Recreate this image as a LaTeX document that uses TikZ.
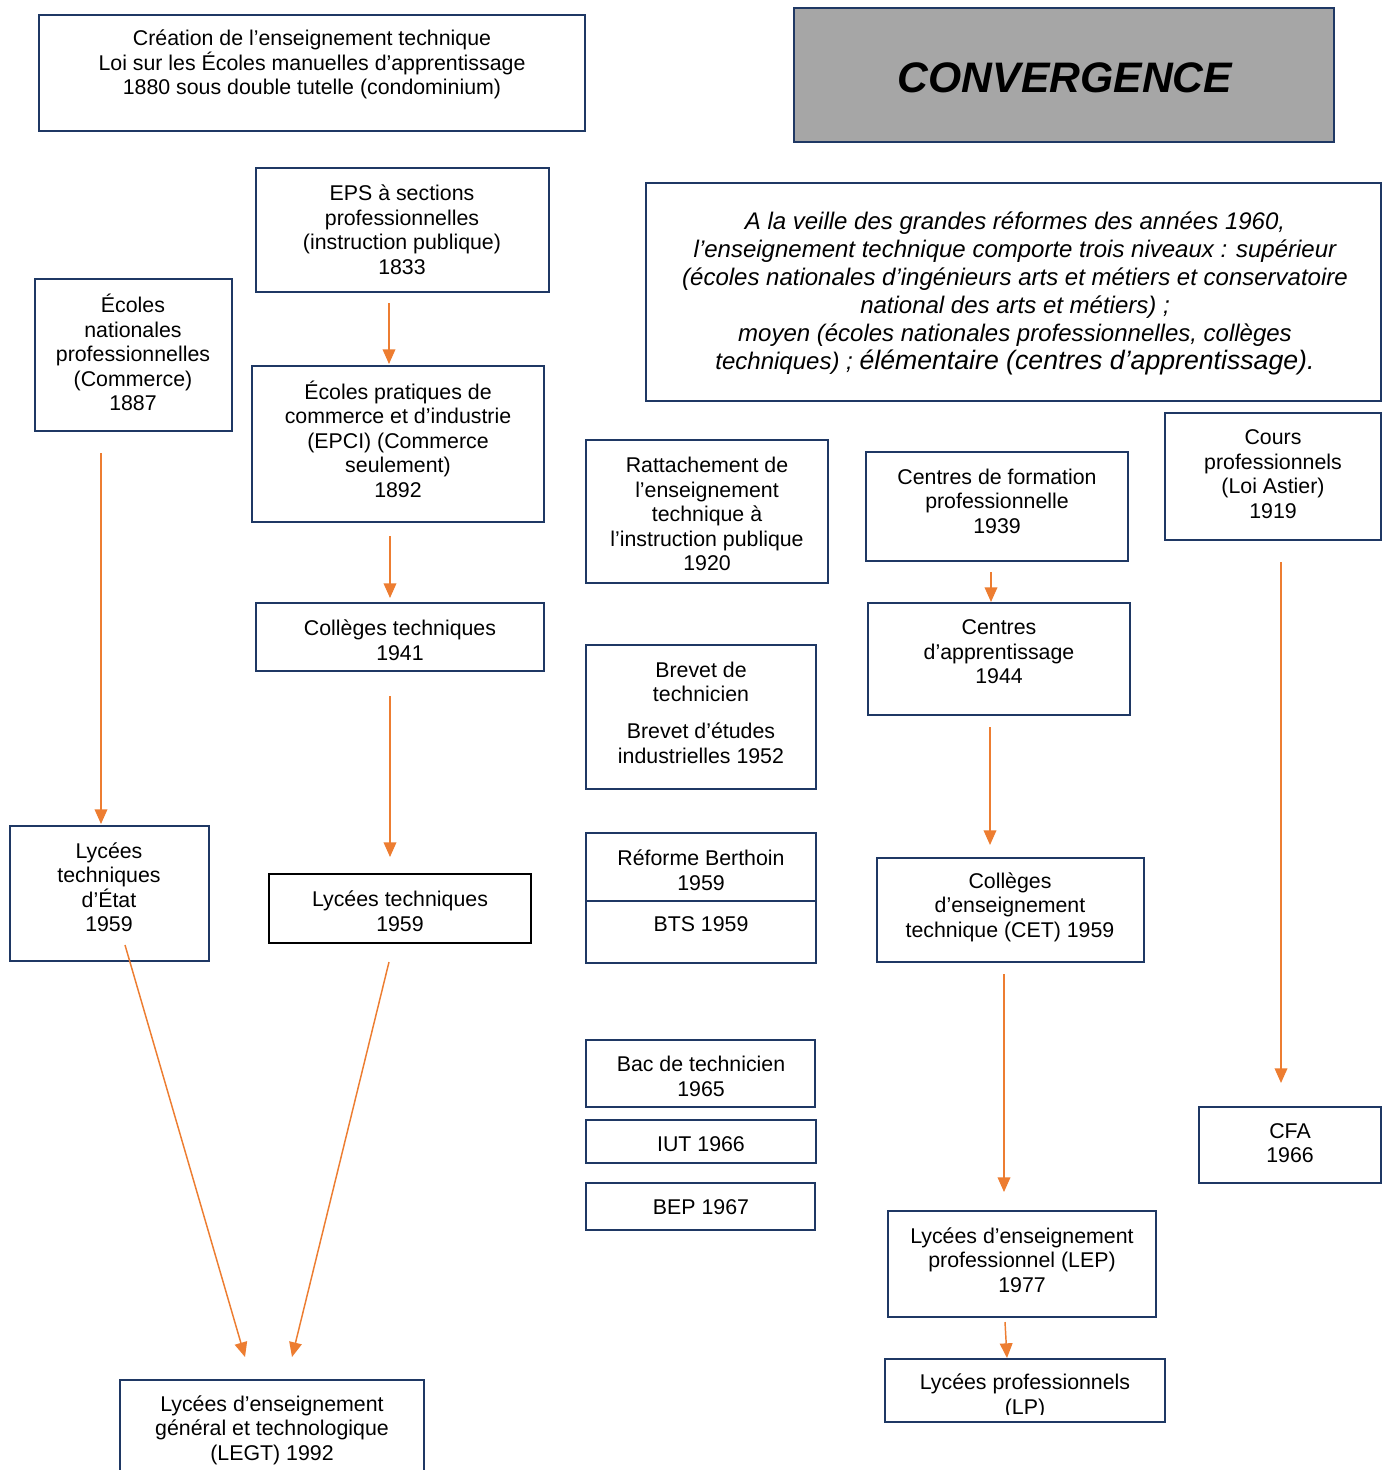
\documentclass[tikz,border=0pt]{standalone}
\usepackage{fontspec}
\setmainfont{Liberation Sans}
\usetikzlibrary{arrows.meta}
\definecolor{navy}{RGB}{31,56,100}
\definecolor{arrorange}{RGB}{237,125,49}
\definecolor{titlegray}{RGB}{166,166,166}
\newcommand\mybox[6]{%
  \node[box,#6,minimum width={(#4-#2)*0.75pt},minimum height={(#5-#3)*0.75pt}] (#1) at ({(#2+#4)/2},{(#3+#5)/2}) {};}
\begin{document}
\begin{tikzpicture}[x=0.75pt,y=-0.75pt,
  box/.style={draw=navy,line width=1.5pt,fill=white,inner sep=0pt,outer sep=0pt},
  txt/.style={align=center,inner sep=0pt,yshift=-1.2pt,font=\fontsize{16}{18.4}\selectfont},
  arr/.style={draw=arrorange,line width=1.1pt,-{Triangle[length=11pt,width=9.5pt]}}]
\useasboundingbox (0,0) rectangle (1390,1470);
\clip (0,0) rectangle (1390,1470);
\fill[white] (0,0) rectangle (1390,1470);

% boxes
\mybox{crea}{39}{15}{585}{131}{}
\mybox{eps}{256}{168}{549}{292}{}
\mybox{ecn}{35}{279}{232}{431}{}
\mybox{epci}{252}{366}{544}{522}{}
\mybox{coll}{256}{603}{544}{671}{}
\mybox{lte}{10}{826}{209}{961}{}
\mybox{lyt}{269}{874}{531}{943}{draw=black,line width=1.9pt}
\mybox{legt}{120}{1380}{424}{1500}{}
\mybox{conv}{794}{8}{1334}{142}{fill=titlegray,line width=2pt}
\mybox{veille}{646}{183}{1381}{401}{line width=2pt}
\mybox{ratt}{586}{440}{828}{583}{}
\mybox{brev}{586}{645}{816}{789}{}
\mybox{berth}{586}{833}{816}{901}{}
\mybox{bts}{586}{901}{816}{963}{}
\mybox{bac}{586}{1040}{815}{1107}{}
\mybox{iut}{586}{1120}{816}{1163}{}
\mybox{bep}{586}{1183}{815}{1230}{}
\mybox{cfp}{866}{452}{1128}{561}{}
\mybox{cap}{868}{603}{1130}{715}{}
\mybox{cet}{877}{858}{1144}{962}{}
\mybox{lep}{888}{1211}{1156}{1317}{}
\mybox{lp}{885}{1359}{1165}{1422}{}
\mybox{cours}{1165}{413}{1381}{540}{}
\mybox{cfa}{1199}{1107}{1381}{1183}{}

% texts
\node[txt] (creat) at (312,63) {Création de l’enseignement technique\\Loi sur les Écoles manuelles d’apprentissage\\1880 sous double tutelle (condominium)};
\node[txt] (epst) at (402,228) {EPS à sections\\professionnelles\\(instruction publique)\\1833};
\node[txt] (ecnt) at (133,351) {Écoles\\nationales\\professionnelles\\(Commerce)\\1887};
\node[txt] (epcit) at (398,437.5) {Écoles pratiques de\\commerce et d’industrie\\(EPCI) (Commerce\\seulement)\\1892};
\node[txt] (collt) at (400,638.5) {Collèges techniques\\1941};
\node[txt] (ltet) at (109,885.5) {Lycées\\techniques\\d’État\\1959};
\node[txt] (lytt) at (400,909.5) {Lycées techniques\\1959};
\node[txt] (legtt) at (272,1428.5) {Lycées d’enseignement\\général et technologique\\(LEGT) 1992};
\node[txt,font=\fontsize{32}{36}\selectfont\bfseries\itshape] (convt) at (1065,76) {CONVERGENCE};
\node[txt,font=\fontsize{18}{21}\selectfont\itshape] (veillet) at (1015,292) {A la veille des grandes réformes des années 1960,\\l’enseignement technique comporte trois niveaux : supérieur\\(écoles nationales d’ingénieurs arts et métiers et conservatoire\\national des arts et métiers) ;\\moyen (écoles nationales professionnelles, collèges\\techniques) ; {\fontsize{20}{21.5}\selectfont élémentaire (centres d’apprentissage).}};
\node[txt] (rattt) at (707,512.5) {Rattachement de\\l’enseignement\\technique à\\l’instruction publique\\1920};
\node[txt] (brevt) at (701,711) {Brevet de\\technicien\\[9pt]Brevet d’études\\industrielles 1952};
\node[txt] (bertht) at (701,868.5) {Réforme Berthoin\\1959};
\node[txt] (btst) at (701,923) {BTS 1959};
\node[txt] (bact) at (701,1075) {Bac de technicien\\1965};
\node[txt] (iutt) at (701,1143) {IUT 1966};
\node[txt] (bept) at (701,1206) {BEP 1967};
\node[txt] (cfpt) at (997,499.5) {Centres de formation\\professionnelle\\1939};
\node[txt] (capt) at (999,650.5) {Centres\\d’apprentissage\\1944};
\node[txt] (cett) at (1010,905.5) {Collèges\\d’enseignement\\technique (CET) 1959};
\node[txt] (lept) at (1022,1258.5) {Lycées d’enseignement\\professionnel (LEP)\\1977};
\begin{scope}
\clip (886,1360) rectangle (1164,1414);
\node[txt,anchor=north] (lpt) at (1025,1372) {Lycées professionnels\\(LP)};
\end{scope}
\node[txt] (courst) at (1273,472.5) {Cours\\professionnels\\(Loi Astier)\\1919};
\node[txt] (cfat) at (1290,1141.5) {CFA\\1966};

% arrows
\draw[arr] ([shift={(-13.5,11)}]eps.south) -- ([shift={(-9,-2)}]epci.north);
\draw[arr] ([shift={(-8,14)}]epci.south) -- ([shift={(-10,-5)}]coll.north);
\draw[arr] ([shift={(-10,25)}]coll.south) -- ([shift={(-10,-17)}]lyt.north);
\draw[arr] ([shift={(-32.5,22)}]ecn.south) -- ([shift={(-8.5,-2)}]lte.north);
\draw[arr] ([shift={(15.5,-16)}]lte.south) -- ([shift={(-27,-23)}]legt.north);
\draw[arr] ([shift={(-11,19)}]lyt.south) -- ([shift={(20,-23)}]legt.north);
\draw[arr] ([shift={(-6,11)}]cfp.south) -- ([shift={(-8,-1)}]cap.north);
\draw[arr] ([shift={(-9,12)}]cap.south) -- ([shift={(-20.5,-13)}]cet.north);
\draw[arr] ([shift={(-6.5,12)}]cet.south) -- ([shift={(-18,-19)}]lep.north);
\draw[arr] ([shift={(-17,5)}]lep.south) -- ([shift={(-18,-1)}]lp.north);
\draw[arr] ([shift={(8,22)}]cours.south) -- ([shift={(-9,-24)}]cfa.north);
\end{tikzpicture}
\end{document}
